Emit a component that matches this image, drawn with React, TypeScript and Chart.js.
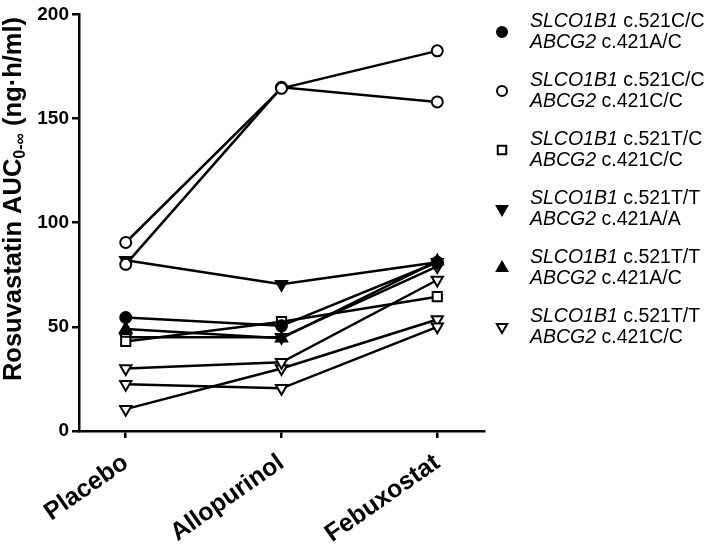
import React, { useEffect, useRef } from "react";
import { Chart, registerables } from "chart.js";

Chart.register(...registerables);

// ---- data ----
const categories = ["Placebo", "Allopurinol", "Febuxostat"];
const yTickValues = [0, 50, 100, 150, 200];

const filledCircle = [54.5, 50.5, 81];
const openCircleA = [90.5, 164.5, 182.5];
const openCircleB = [80, 165, 158];
const openSquare = [43, 52.5, 64.5];
const filledDownTri = [82, 70.5, 81];
const filledUpTri = [49, 44.5, 81.5];
const openDownTriA = [45, 45, 79];
const openDownTriB = [30, 33, 72.5];
const openDownTriC = [22.5, 20.5, 50];
const openDownTriD = [10.5, 30, 53.5];

const legendGene1 = ["SLCO1B1", "SLCO1B1", "SLCO1B1", "SLCO1B1", "SLCO1B1", "SLCO1B1"];
const legendAllele1 = [" c.521C/C", " c.521C/C", " c.521T/C", " c.521T/T", " c.521T/T", " c.521T/T"];
const legendGene2 = ["ABCG2", "ABCG2", "ABCG2", "ABCG2", "ABCG2", "ABCG2"];
const legendAllele2 = [" c.421A/C", " c.421C/C", " c.421C/C", " c.421A/A", " c.421A/C", " c.421C/C"];

type MarkerKind = { style: string; filled: boolean; rotation: number };
const markerKinds: MarkerKind[] = [
  { style: "circle", filled: true, rotation: 0 },
  { style: "circle", filled: false, rotation: 0 },
  { style: "rect", filled: false, rotation: 0 },
  { style: "triangle", filled: true, rotation: 180 },
  { style: "triangle", filled: true, rotation: 0 },
  { style: "triangle", filled: false, rotation: 180 },
];

const subjects: { values: number[]; kind: number }[] = [
  { values: filledCircle, kind: 0 },
  { values: openCircleA, kind: 1 },
  { values: openCircleB, kind: 1 },
  { values: openSquare, kind: 2 },
  { values: filledDownTri, kind: 3 },
  { values: filledUpTri, kind: 4 },
  { values: openDownTriA, kind: 5 },
  { values: openDownTriB, kind: 5 },
  { values: openDownTriC, kind: 5 },
  { values: openDownTriD, kind: 5 },
];

const FONT = '"Liberation Sans", Arial, Helvetica, sans-serif';

function markerRadius(style: string) {
  if (style === "rect") return 6.5;
  if (style === "triangle") return 6.5;
  return 5.5;
}

function drawMarker(ctx: CanvasRenderingContext2D, k: MarkerKind, x: number, y: number, r: number) {
  ctx.save();
  ctx.translate(x, y);
  ctx.rotate((k.rotation * Math.PI) / 180);
  ctx.beginPath();
  if (k.style === "circle") {
    ctx.arc(0, 0, r, 0, Math.PI * 2);
  } else if (k.style === "rect") {
    const s = Math.SQRT1_2 * r;
    ctx.rect(-s, -s, 2 * s, 2 * s);
  } else {
    ctx.moveTo(0, -r);
    ctx.lineTo(r * Math.cos(Math.PI / 6), r * 0.5);
    ctx.lineTo(-r * Math.cos(Math.PI / 6), r * 0.5);
    ctx.closePath();
  }
  ctx.fillStyle = k.filled ? "#000" : "#fff";
  ctx.fill();
  ctx.lineWidth = 2;
  ctx.strokeStyle = "#000";
  ctx.stroke();
  ctx.restore();
}

const overlayPlugin = {
  id: "overlay",
  afterDraw(chart: any) {
    const ctx: CanvasRenderingContext2D = chart.ctx;
    // y-axis title with subscript
    ctx.save();
    ctx.translate(14, 199);
    ctx.rotate(-Math.PI / 2);
    ctx.fillStyle = "#000";
    ctx.textBaseline = "middle";
    const main = `bold 25.5px ${FONT}`;
    const sub = `bold 16px ${FONT}`;
    const p1 = "Rosuvastatin AUC";
    const p2 = "0-\u221E";
    const p3 = " (ng\u00B7h/ml)";
    ctx.font = main;
    const w1 = ctx.measureText(p1).width;
    const w3 = ctx.measureText(p3).width;
    ctx.font = sub;
    const w2 = ctx.measureText(p2).width;
    let x = -(w1 + w2 + w3) / 2;
    ctx.font = main;
    ctx.fillText(p1, x, 0);
    x += w1;
    ctx.font = sub;
    ctx.fillText(p2, x, 7);
    x += w2;
    ctx.font = main;
    ctx.fillText(p3, x, 0);
    ctx.restore();

    // legend
    ctx.save();
    ctx.fillStyle = "#000";
    ctx.textBaseline = "middle";
    const italic = `italic 19.5px ${FONT}`;
    const normal = `19.5px ${FONT}`;
    for (let i = 0; i < markerKinds.length; i++) {
      const cy = 32 + i * 59;
      drawMarker(ctx, markerKinds[i], 502, cy, markerKinds[i].style === "circle" ? 5 : 6);
      const lines = [
        [legendGene1[i], legendAllele1[i]],
        [legendGene2[i], legendAllele2[i]],
      ];
      lines.forEach((ln, j) => {
        const ly = cy - 10.5 + j * 21;
        ctx.font = italic;
        ctx.fillStyle = "#000";
        ctx.fillText(ln[0], 530, ly);
        const w = ctx.measureText(ln[0]).width;
        ctx.font = normal;
        ctx.fillText(ln[1], 530 + w, ly);
      });
    }
    ctx.restore();
  },
};

export default function App() {
  const canvasRef = useRef<HTMLCanvasElement | null>(null);

  useEffect(() => {
    if (!canvasRef.current) return;
    const datasets = subjects.map((s) => {
      const k = markerKinds[s.kind];
      return {
        data: s.values.map((v, i) => ({ x: i, y: v })),
        borderColor: "#000",
        borderWidth: 2.5,
        pointStyle: k.style,
        pointRotation: k.rotation,
        pointRadius: markerRadius(k.style),
        pointBorderWidth: 2,
        pointBorderColor: "#000",
        pointBackgroundColor: k.filled ? "#000" : "#fff",
        fill: false,
        tension: 0,
      };
    });

    const chart = new Chart(canvasRef.current, {
      type: "line",
      data: { datasets } as any,
      options: {
        animation: false,
        responsive: false,
        maintainAspectRatio: false,
        layout: { padding: { top: 10, right: 225, left: 0, bottom: 0 } },
        plugins: { legend: { display: false }, tooltip: { enabled: false } },
        scales: {
          x: {
            type: "linear",
            min: -0.3,
            max: 2.3,
            afterBuildTicks: (s: any) => {
              s.ticks = categories.map((_, i) => ({ value: i }));
            },
            afterFit: (s: any) => {
              s.height = 121;
            },
            ticks: {
              callback: (v: any) => categories[v as number] ?? "",
              minRotation: 35,
              maxRotation: 35,
              color: "#000",
              padding: 10,
              font: { family: FONT, size: 25, weight: "bold" },
            },
            grid: {
              display: true,
              drawOnChartArea: false,
              drawTicks: true,
              tickLength: 7,
              color: "#000",
              lineWidth: 2.5,
            },
            border: { display: true, color: "#000", width: 2.5 },
          },
          y: {
            min: 0,
            max: 200,
            afterBuildTicks: (s: any) => {
              s.ticks = yTickValues.map((v) => ({ value: v }));
            },
            afterFit: (s: any) => {
              s.width = 79;
            },
            ticks: {
              color: "#000",
              padding: 3,
              font: { family: FONT, size: 19, weight: "bold" },
            },
            grid: {
              display: true,
              drawOnChartArea: false,
              drawTicks: true,
              tickLength: 7,
              color: "#000",
              lineWidth: 2.5,
            },
            border: { display: true, color: "#000", width: 2.5 },
          },
        },
      } as any,
      plugins: [overlayPlugin],
    });
    return () => chart.destroy();
  }, []);

  return (
    <div style={{ position: "fixed", left: 0, top: 0, width: 709, height: 552, background: "#fff" }}>
      <canvas ref={canvasRef} width={709} height={552} style={{ width: 709, height: 552 }} />
    </div>
  );
}
